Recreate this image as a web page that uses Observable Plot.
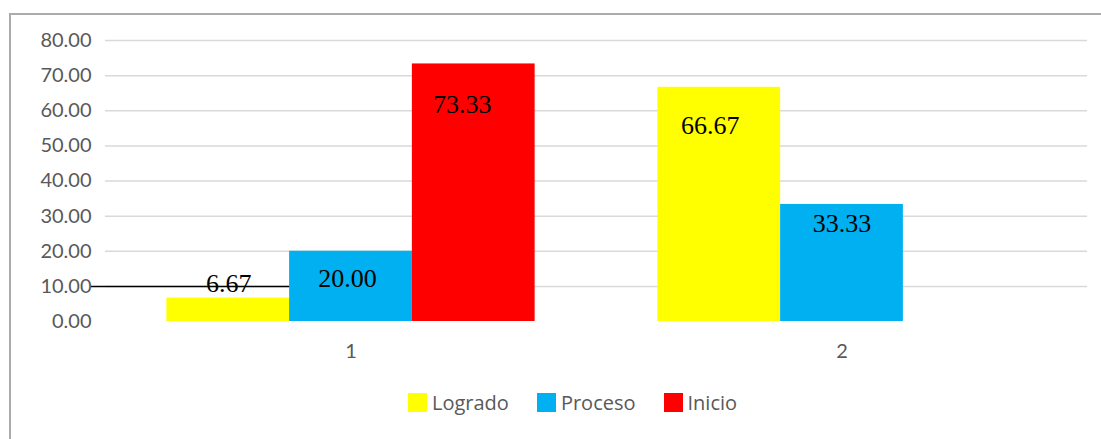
<!DOCTYPE html>
<html>
<head>
<meta charset="utf-8">
<script src="https://cdn.jsdelivr.net/npm/d3@7"></script>
<script src="https://cdn.jsdelivr.net/npm/@observablehq/plot@0.6"></script>
<style>
  html, body { margin: 0; padding: 0; background: #fff; overflow: hidden; }
  #frame { position: absolute; left: 9px; top: 13px; width: 1200px; height: 600px; border: 2px solid #ababab; box-sizing: border-box; }
  #chart { position: absolute; left: 0; top: 0; }
  #legend { position: absolute; left: 408px; top: 386px; }
  #legend > div, #legend div { font-family: "Open Sans", sans-serif !important; font-size: 20px !important; color: #595959 !important; margin: 0 !important; }
  #legend span { font-family: "Open Sans", sans-serif !important; font-size: 20px !important; color: #595959 !important; margin-right: 28px !important; }
  #legend span > svg { margin-right: 5px !important; }
</style>
</head>
<body>
<div id="frame"></div>
<div id="chart"></div>
<div id="legend"></div>
<script>
// ---- data ----
const groups = ["1", "2"];
const series = ["Logrado", "Proceso", "Inicio"];
const logrado = [6.67, 66.67];
const proceso = [20.00, 33.33];
const inicio = [73.33, null];
const yTicks = [0, 10, 20, 30, 40, 50, 60, 70, 80];
const gridTicks = [10, 20, 30, 40, 50, 60, 70, 80];
const colors = ["#FFFF00", "#00B0F0", "#FF0000"];
// manual label nudges (px) as in the original
const labelDx = [[0.5, -9], [-3.5, 0], [-11.5, 0]];
const labelDy = [[-14, 38.5], [27, 19], [40.5, 0]];
// stray black line in the original at value 10
const strayLine = [{y: 10}];

const values = [logrado, proceso, inicio];
const barWidth = 0.25; // fraction of group band
const rows = [];
groups.forEach((g, gi) => {
  series.forEach((s, si) => {
    const v = values[si][gi];
    if (v == null) return;
    const x1 = gi + 0.5 + (si - 1.5) * barWidth;
    rows.push({group: g, series: s, value: v, x1, x2: x1 + barWidth, xc: x1 + barWidth / 2,
               dx: labelDx[si][gi], dy: labelDy[si][gi]});
  });
});

const chart = Plot.plot({
  width: 1101,
  height: 370,
  marginLeft: 105,
  marginRight: 14,
  marginTop: 40,
  marginBottom: 49,
  style: {fontFamily: "Lato, sans-serif", fontSize: "20px", color: "#595959", background: "transparent", overflow: "visible"},
  x: {type: "linear", domain: [0, 2]},
  y: {domain: [0, 80]},
  color: {domain: series, range: colors},
  marks: [
    Plot.ruleY(gridTicks, {stroke: "#d9d9d9", strokeWidth: 1.5}),
    Plot.rectY(rows, {x1: "x1", x2: "x2", y1: 0, y2: "value", fill: "series"}),
    Plot.ruleY(strayLine, {y: "y", x1: -0.029, x2: 0.5 - 0.5 * barWidth, stroke: "black", strokeWidth: 1.5, clip: false}),
    ...rows.map(r => Plot.text([r], {x: "xc", y: "value", text: d => d.value.toFixed(2),
        dx: r.dx, dy: r.dy, fontFamily: "Liberation Serif, Times New Roman, serif", fontSize: 26, fill: "black"})),
    Plot.axisY({ticks: yTicks, tickFormat: d => d.toFixed(2), tickSize: 0, tickPadding: 14, label: null, fill: "#595959"}),
    Plot.axisX({ticks: [0.5, 1.5], tickFormat: d => groups[Math.floor(d)], tickSize: 0, tickPadding: 22, label: null, fill: "#595959"})
  ]
});
document.getElementById("chart").appendChild(chart);

const legend = Plot.legend({
  color: {domain: series, range: colors},
  legend: "swatches",
  swatchSize: 19,
  className: "leg"
});
document.getElementById("legend").appendChild(legend);
</script>
</body>
</html>
